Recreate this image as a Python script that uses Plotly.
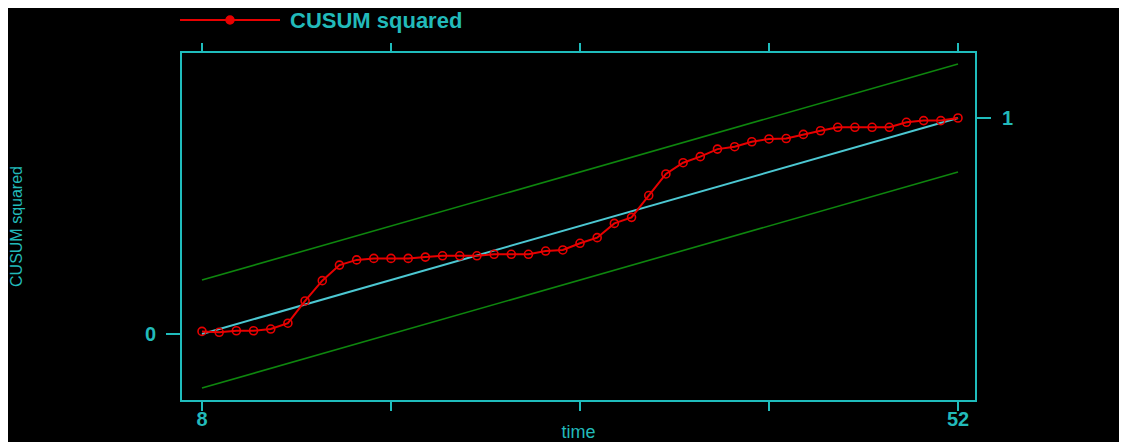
import plotly.graph_objects as go

# ---- data ----
time = list(range(8, 53))
cusum_sq = [0.012, 0.008, 0.015, 0.015, 0.023, 0.050, 0.153, 0.247, 0.319, 0.343,
            0.350, 0.350, 0.350, 0.356, 0.362, 0.362, 0.362, 0.369, 0.369, 0.369,
            0.384, 0.389, 0.420, 0.446, 0.512, 0.540, 0.641, 0.741, 0.793, 0.821,
            0.856, 0.867, 0.890, 0.903, 0.905, 0.924, 0.941, 0.957, 0.957, 0.957,
            0.957, 0.980, 0.988, 0.988, 1.000]
ref_t = [8, 52]
expected = [0.0, 1.0]
upper = [0.25, 1.25]
lower = [-0.25, 0.75]
x_ticks = [8, 19, 30, 41, 52]
x_ticktext = ["8", "", "", "", "52"]

# page body has an 8px margin: work in figure coordinates = window - 8
OFF = 8
W, H = 1127 - 2 * OFF, 442 - OFF
L, R, T, B = 182 - OFF, 975 - OFF, 53 - OFF, 400 - OFF
pw, ph = R - L, B - T

def px(x):
    return (x - OFF - L) / pw

def py(y):
    return (B - (y - OFF)) / ph

CYAN = "#1fbcbc"
TXT = "#22baba"
RED = "#e80000"
GREEN = "#0e860e"
FONT = "Liberation Sans, Arial, sans-serif"

fig = go.Figure()
fig.add_trace(go.Scatter(x=ref_t, y=upper, mode="lines",
                         line=dict(color=GREEN, width=1.6), showlegend=False))
fig.add_trace(go.Scatter(x=ref_t, y=lower, mode="lines",
                         line=dict(color=GREEN, width=1.6), showlegend=False))
fig.add_trace(go.Scatter(x=ref_t, y=expected, mode="lines",
                         line=dict(color="#4cc8d2", width=2), showlegend=False))
fig.add_trace(go.Scatter(x=time, y=cusum_sq, mode="lines+markers",
                         line=dict(color=RED, width=2),
                         marker=dict(symbol="circle-open", size=8, color=RED,
                                     line=dict(width=1.6, color=RED)),
                         name="CUSUM squared", showlegend=False))
# invisible trace so the top / right axes are drawn
fig.add_trace(go.Scatter(x=[8], y=[0], xaxis="x2", yaxis="y2", mode="markers",
                         marker=dict(opacity=0), showlegend=False, hoverinfo="skip"))

x_range = [8 - (202 - 182) / 17.18, 52 + (975 - 958) / 17.18]
y_range = [-(400 - 334) / 216, (334 - 53) / 216]

axis_common = dict(showgrid=False, zeroline=False, showline=True, linecolor=CYAN,
                   linewidth=2, ticks="outside", tickcolor=CYAN, tickwidth=2)

fig.update_layout(
    width=W, height=H,
    paper_bgcolor="black", plot_bgcolor="black",
    margin=dict(l=L, r=W - R, t=T, b=H - B, autoexpand=False),
    font=dict(family=FONT, color=TXT),
    xaxis=dict(**axis_common, range=x_range, tickvals=x_ticks, ticktext=x_ticktext,
               ticklen=9, ticklabelstandoff=-9,
               tickfont=dict(size=20, color=TXT, weight="bold"),
               title=dict(text="time", font=dict(size=18, color=TXT), standoff=0)),
    xaxis2=dict(**axis_common, overlaying="x", side="top", matches="x",
                range=x_range, tickvals=x_ticks, ticktext=[""] * 5, ticklen=8),
    yaxis=dict(**axis_common, range=y_range, tickvals=[0], ticktext=["0"],
               ticklen=14, ticklabelstandoff=6,
               tickfont=dict(size=20, color=TXT, weight="bold"),
               title=dict(text="CUSUM squared", font=dict(size=16, color=TXT), standoff=118)),
    yaxis2=dict(**axis_common, overlaying="y", side="right", matches="y",
                range=y_range, tickvals=[1], ticktext=["1"], ticklen=14,
                ticklabelstandoff=7,
                tickfont=dict(size=20, color=TXT, weight="bold")),
    showlegend=False,
)

# legend drawn manually (long line sample as in the reference)
fig.add_shape(type="line", xref="paper", yref="paper",
              x0=px(180), x1=px(280), y0=py(20), y1=py(20),
              line=dict(color=RED, width=2))
fig.add_shape(type="circle", xref="paper", yref="paper",
              x0=px(226), x1=px(234), y0=py(24), y1=py(16),
              line=dict(color=RED, width=1.5), fillcolor=RED)
fig.add_annotation(xref="paper", yref="paper", x=px(288), y=py(20),
                   text="<b>CUSUM squared</b>", showarrow=False, xanchor="left",
                   yanchor="middle", font=dict(size=22, color=TXT, family=FONT))

fig.write_html("out.html")
